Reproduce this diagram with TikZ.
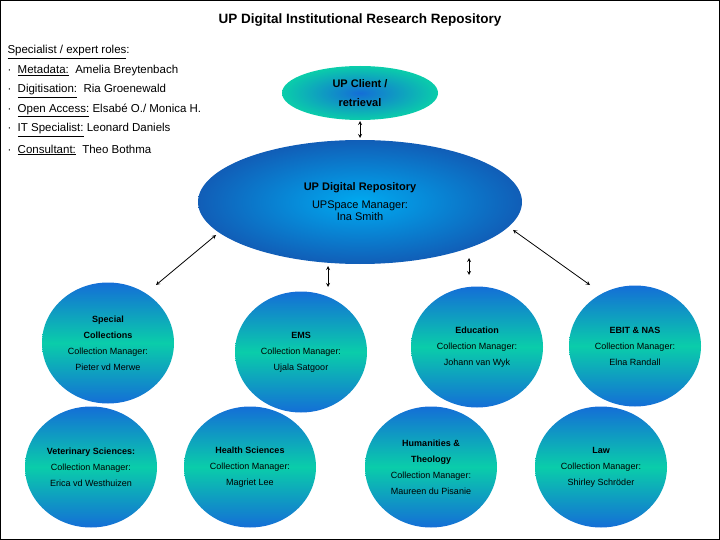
\documentclass[tikz,border=0pt]{standalone}
\usepackage{fontspec}
\setmainfont{Liberation Sans}
\usetikzlibrary{shapes.geometric}
\definecolor{bl}{RGB}{20,110,215}
\definecolor{gr}{RGB}{10,205,170}
\definecolor{bc}{RGB}{0,170,240}
\begin{document}
\begin{tikzpicture}[x=1pt,y=-1pt,
  coll/.style={ellipse,minimum width=132pt,minimum height=121pt,inner sep=0pt,
    top color=bl,bottom color=bl,middle color=gr,align=center,font=\fontsize{9}{16}\selectfont},
  arr/.style={<->,>=stealth,thick},
  role/.style={anchor=west,font=\fontsize{11.5}{13}\selectfont}]
\useasboundingbox (0,0) rectangle (720,540);
\draw[black] (0.5,0.5) rectangle (719.5,539.5);
\node[font=\fontsize{13.5}{15}\selectfont\bfseries] (title) at (360,20) {UP Digital Institutional Research Repository};
\node[role] (r0) at (4,52) {\underline{Specialist / expert roles}:};
\node[role] (r1) at (4,71) {·\ \ \underline{Metadata:}\ \ Amelia Breytenbach};
\node[role] (r2) at (4,91) {·\ \ \underline{Digitisation:}\ \ Ria Groenewald};
\node[role] (r3) at (4,110) {·\ \ \underline{Open Access:} Elsabé O./ Monica H.};
\node[role] (r4) at (4,130) {·\ \ \underline{IT Specialist:} Leonard Daniels};
\node[role] (r5) at (4,150) {·\ \ \underline{Consultant:}\ \ Theo Bothma};

\node[ellipse,minimum width=156pt,minimum height=54pt,inner color=bl,outer color=gr,align=center,
  font=\fontsize{11}{19}\selectfont\bfseries] (client) at (360,93) {UP Client /\\retrieval};
\node[ellipse,minimum width=324pt,minimum height=124pt,inner color=bc,outer color=bl!85!black,align=center] (repo) at (360,202)
  {{\fontsize{11}{13}\selectfont\bfseries UP Digital Repository}\\[6pt]{\fontsize{11}{12}\selectfont UPSpace Manager:}\\{\fontsize{11}{12}\selectfont Ina Smith}};

\node[coll] (spec) at (108,343) {{\bfseries Special}\\{\bfseries Collections}\\Collection Manager:\\Pieter vd Merwe};
\node[coll] (ems) at (301,352) {{\bfseries EMS}\\Collection Manager:\\Ujala Satgoor};
\node[coll] (edu) at (477,347) {{\bfseries Education}\\Collection Manager:\\Johann van Wyk};
\node[coll] (ebit) at (635,346) {{\bfseries EBIT \& NAS}\\Collection Manager:\\Elna Randall};
\node[coll] (vet) at (91,467) {{\bfseries Veterinary Sciences:}\\Collection Manager:\\Erica vd Westhuizen};
\node[coll] (health) at (250,467) {{\bfseries Health Sciences}\\Collection Manager:\\Magriet Lee};
\node[coll] (hum) at (431,467) {{\bfseries Humanities \&}\\{\bfseries Theology}\\Collection Manager:\\Maureen du Pisanie};
\node[coll] (law) at (601,467) {{\bfseries Law}\\Collection Manager:\\Shirley Schröder};

\coordinate (a1) at (156,285); \coordinate (b1) at (216,235);
\coordinate (a2) at (328,287); \coordinate (b2) at (328,266);
\coordinate (a3) at (469,275); \coordinate (b3) at (469,258);
\coordinate (a4) at (590,285); \coordinate (b4) at (513,230);
\coordinate (a5) at (360,121); \coordinate (b5) at (360,138);
\draw[arr] (a1) -- (b1);
\draw[arr] (a2) -- (b2);
\draw[arr] (a3) -- (b3);
\draw[arr] (a4) -- (b4);
\draw[arr] (a5) -- (b5);
\end{tikzpicture}
\end{document}
